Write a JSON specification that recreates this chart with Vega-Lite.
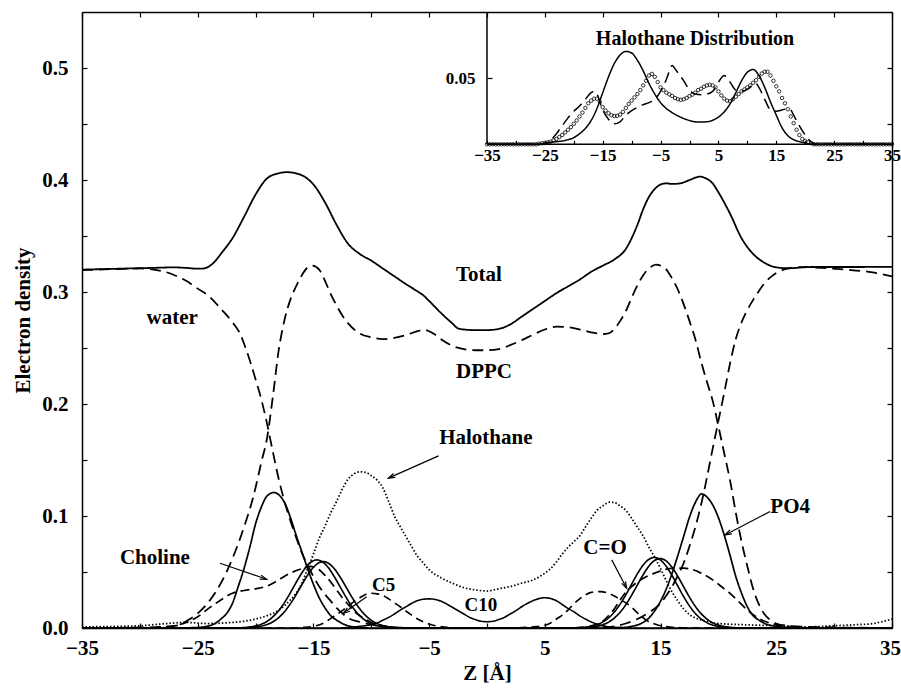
{
"$schema": "https://vega.github.io/schema/vega-lite/v6.json",
"width": 810, "height": 616,
"autosize": {"type": "none"},
"padding": {"left": 82, "top": 12, "right": 9, "bottom": 60},
"background": "white",
"config": {
 "view": {"stroke": null},
 "font": "Liberation Serif",
 "axis": {"grid": false, "domainColor": "black", "domainWidth": 1.5, "tickColor": "black", "tickWidth": 1.2, "labelColor": "black", "labelFont": "Liberation Serif", "labelFontWeight": "bold", "labelFontSize": 21, "titleFont": "Liberation Serif", "titleFontWeight": "bold", "titleFontSize": 21, "titleColor": "black", "labelFlush": false, "labelOverlap": false, "labelBound": false}
},
"datasets": {
 "main": [
{"s":"Total","z":-35,"v":0.32},{"s":"Total","z":-33,"v":0.3205},{"s":"Total","z":-31,"v":0.321},{"s":"Total","z":-29,"v":0.3215},{"s":"Total","z":-27,"v":0.322},{"s":"Total","z":-26,"v":0.3215},{"s":"Total","z":-25,"v":0.3208},{"s":"Total","z":-24.5,"v":0.321},{"s":"Total","z":-24,"v":0.323},{"s":"Total","z":-23.5,"v":0.3275},{"s":"Total","z":-23,"v":0.334},{"s":"Total","z":-22,"v":0.348},{"s":"Total","z":-21,"v":0.367},{"s":"Total","z":-20,"v":0.387},{"s":"Total","z":-19,"v":0.4015},{"s":"Total","z":-18,"v":0.406},{"s":"Total","z":-17.3,"v":0.407},{"s":"Total","z":-16.5,"v":0.406},{"s":"Total","z":-15.5,"v":0.401},{"s":"Total","z":-15,"v":0.396},{"s":"Total","z":-14,"v":0.38},{"s":"Total","z":-13,"v":0.36},{"s":"Total","z":-12,"v":0.343},{"s":"Total","z":-11,"v":0.334},{"s":"Total","z":-10,"v":0.328},{"s":"Total","z":-9,"v":0.321},{"s":"Total","z":-8,"v":0.314},{"s":"Total","z":-7,"v":0.307},{"s":"Total","z":-6,"v":0.3005},{"s":"Total","z":-5.5,"v":0.297},{"s":"Total","z":-5,"v":0.292},{"s":"Total","z":-4,"v":0.2815},{"s":"Total","z":-3,"v":0.272},{"s":"Total","z":-2.5,"v":0.2675},{"s":"Total","z":-2,"v":0.2665},{"s":"Total","z":-1,"v":0.266},{"s":"Total","z":0,"v":0.266},{"s":"Total","z":1,"v":0.267},{"s":"Total","z":2,"v":0.271},{"s":"Total","z":3,"v":0.278},{"s":"Total","z":4,"v":0.285},{"s":"Total","z":5,"v":0.292},{"s":"Total","z":6,"v":0.299},{"s":"Total","z":7,"v":0.305},{"s":"Total","z":8,"v":0.311},{"s":"Total","z":9,"v":0.318},{"s":"Total","z":10,"v":0.3235},{"s":"Total","z":11,"v":0.329},{"s":"Total","z":12,"v":0.3385},{"s":"Total","z":12.5,"v":0.348},{"s":"Total","z":13,"v":0.36},{"s":"Total","z":13.5,"v":0.374},{"s":"Total","z":14,"v":0.385},{"s":"Total","z":14.5,"v":0.392},{"s":"Total","z":15,"v":0.396},{"s":"Total","z":15.5,"v":0.397},{"s":"Total","z":16,"v":0.3965},{"s":"Total","z":16.7,"v":0.397},{"s":"Total","z":17.5,"v":0.4},{"s":"Total","z":18.4,"v":0.403},{"s":"Total","z":19,"v":0.401},{"s":"Total","z":19.5,"v":0.397},{"s":"Total","z":20,"v":0.389},{"s":"Total","z":21,"v":0.37},{"s":"Total","z":22,"v":0.348},{"s":"Total","z":23,"v":0.334},{"s":"Total","z":24,"v":0.326},{"s":"Total","z":25,"v":0.322},{"s":"Total","z":26,"v":0.3212},{"s":"Total","z":28,"v":0.3223},{"s":"Total","z":31,"v":0.3223},{"s":"Total","z":35,"v":0.3225},
{"s":"DPPC","z":-35,"v":0},{"s":"DPPC","z":-30,"v":0.0005},{"s":"DPPC","z":-28,"v":0.001},{"s":"DPPC","z":-27,"v":0.002},{"s":"DPPC","z":-26.5,"v":0.003},{"s":"DPPC","z":-26,"v":0.006},{"s":"DPPC","z":-25,"v":0.013},{"s":"DPPC","z":-24,"v":0.024},{"s":"DPPC","z":-23,"v":0.04},{"s":"DPPC","z":-22,"v":0.062},{"s":"DPPC","z":-21,"v":0.09},{"s":"DPPC","z":-20.2,"v":0.117},{"s":"DPPC","z":-19.5,"v":0.148},{"s":"DPPC","z":-19,"v":0.17},{"s":"DPPC","z":-18.5,"v":0.207},{"s":"DPPC","z":-18,"v":0.248},{"s":"DPPC","z":-17.5,"v":0.275},{"s":"DPPC","z":-17,"v":0.293},{"s":"DPPC","z":-16.5,"v":0.305},{"s":"DPPC","z":-16,"v":0.315},{"s":"DPPC","z":-15.5,"v":0.322},{"s":"DPPC","z":-15.1,"v":0.3235},{"s":"DPPC","z":-14.5,"v":0.32},{"s":"DPPC","z":-14,"v":0.31},{"s":"DPPC","z":-13.5,"v":0.298},{"s":"DPPC","z":-13,"v":0.288},{"s":"DPPC","z":-12.5,"v":0.279},{"s":"DPPC","z":-12,"v":0.272},{"s":"DPPC","z":-11,"v":0.263},{"s":"DPPC","z":-10,"v":0.2595},{"s":"DPPC","z":-9,"v":0.258},{"s":"DPPC","z":-8,"v":0.259},{"s":"DPPC","z":-7,"v":0.2615},{"s":"DPPC","z":-6,"v":0.265},{"s":"DPPC","z":-5.5,"v":0.2662},{"s":"DPPC","z":-5,"v":0.265},{"s":"DPPC","z":-4.5,"v":0.262},{"s":"DPPC","z":-4,"v":0.258},{"s":"DPPC","z":-3,"v":0.252},{"s":"DPPC","z":-2,"v":0.249},{"s":"DPPC","z":-1,"v":0.248},{"s":"DPPC","z":0,"v":0.248},{"s":"DPPC","z":1,"v":0.249},{"s":"DPPC","z":2,"v":0.2525},{"s":"DPPC","z":3,"v":0.257},{"s":"DPPC","z":4,"v":0.262},{"s":"DPPC","z":5,"v":0.2665},{"s":"DPPC","z":6,"v":0.269},{"s":"DPPC","z":7,"v":0.2685},{"s":"DPPC","z":8,"v":0.2665},{"s":"DPPC","z":9,"v":0.264},{"s":"DPPC","z":10,"v":0.2625},{"s":"DPPC","z":10.5,"v":0.263},{"s":"DPPC","z":11,"v":0.267},{"s":"DPPC","z":11.5,"v":0.274},{"s":"DPPC","z":12,"v":0.283},{"s":"DPPC","z":12.5,"v":0.295},{"s":"DPPC","z":13,"v":0.306},{"s":"DPPC","z":13.5,"v":0.315},{"s":"DPPC","z":14,"v":0.321},{"s":"DPPC","z":14.6,"v":0.3244},{"s":"DPPC","z":15,"v":0.3235},{"s":"DPPC","z":15.5,"v":0.32},{"s":"DPPC","z":16,"v":0.312},{"s":"DPPC","z":16.5,"v":0.302},{"s":"DPPC","z":17,"v":0.289},{"s":"DPPC","z":17.5,"v":0.274},{"s":"DPPC","z":18,"v":0.258},{"s":"DPPC","z":18.5,"v":0.238},{"s":"DPPC","z":19,"v":0.22},{"s":"DPPC","z":19.5,"v":0.203},{"s":"DPPC","z":20,"v":0.18},{"s":"DPPC","z":20.5,"v":0.156},{"s":"DPPC","z":21,"v":0.132},{"s":"DPPC","z":21.5,"v":0.103},{"s":"DPPC","z":22,"v":0.077},{"s":"DPPC","z":22.5,"v":0.055},{"s":"DPPC","z":23,"v":0.035},{"s":"DPPC","z":23.5,"v":0.021},{"s":"DPPC","z":24,"v":0.012},{"s":"DPPC","z":24.5,"v":0.007},{"s":"DPPC","z":25,"v":0.004},{"s":"DPPC","z":26,"v":0.002},{"s":"DPPC","z":28,"v":0.001},{"s":"DPPC","z":35,"v":0},
{"s":"water","z":-35,"v":0.3195},{"s":"water","z":-32,"v":0.3205},{"s":"water","z":-30,"v":0.321},{"s":"water","z":-28,"v":0.3185},{"s":"water","z":-27,"v":0.315},{"s":"water","z":-26,"v":0.31},{"s":"water","z":-25,"v":0.303},{"s":"water","z":-24,"v":0.296},{"s":"water","z":-23,"v":0.285},{"s":"water","z":-22,"v":0.273},{"s":"water","z":-21.35,"v":0.263},{"s":"water","z":-21,"v":0.254},{"s":"water","z":-20.5,"v":0.239},{"s":"water","z":-20,"v":0.222},{"s":"water","z":-19.5,"v":0.204},{"s":"water","z":-19,"v":0.182},{"s":"water","z":-18.5,"v":0.157},{"s":"water","z":-18,"v":0.133},{"s":"water","z":-17.5,"v":0.113},{"s":"water","z":-17,"v":0.096},{"s":"water","z":-16.5,"v":0.081},{"s":"water","z":-16,"v":0.067},{"s":"water","z":-15.5,"v":0.056},{"s":"water","z":-15,"v":0.046},{"s":"water","z":-14.5,"v":0.037},{"s":"water","z":-14,"v":0.03},{"s":"water","z":-13.5,"v":0.024},{"s":"water","z":-13,"v":0.018},{"s":"water","z":-12.5,"v":0.013},{"s":"water","z":-12,"v":0.009},{"s":"water","z":-11,"v":0.0055},{"s":"water","z":-10,"v":0.003},{"s":"water","z":-9,"v":0.0015},{"s":"water","z":-8,"v":0.0007},{"s":"water","z":-6,"v":0},{"s":"water","z":10,"v":0},{"s":"water","z":11,"v":0.0015},{"s":"water","z":12,"v":0.004},{"s":"water","z":13,"v":0.008},{"s":"water","z":14,"v":0.014},{"s":"water","z":15,"v":0.022},{"s":"water","z":15.5,"v":0.029},{"s":"water","z":16,"v":0.037},{"s":"water","z":16.5,"v":0.047},{"s":"water","z":17,"v":0.058},{"s":"water","z":17.5,"v":0.073},{"s":"water","z":18,"v":0.09},{"s":"water","z":18.5,"v":0.11},{"s":"water","z":19,"v":0.134},{"s":"water","z":19.5,"v":0.16},{"s":"water","z":20,"v":0.185},{"s":"water","z":20.5,"v":0.21},{"s":"water","z":21,"v":0.236},{"s":"water","z":21.5,"v":0.258},{"s":"water","z":22,"v":0.273},{"s":"water","z":22.5,"v":0.284},{"s":"water","z":23,"v":0.293},{"s":"water","z":23.5,"v":0.301},{"s":"water","z":24,"v":0.308},{"s":"water","z":25,"v":0.317},{"s":"water","z":26,"v":0.321},{"s":"water","z":27,"v":0.3223},{"s":"water","z":29,"v":0.3215},{"s":"water","z":31,"v":0.32},{"s":"water","z":33,"v":0.318},{"s":"water","z":35,"v":0.314},
{"s":"Halothane","z":-35,"v":0.001},{"s":"Halothane","z":-30,"v":0.002},{"s":"Halothane","z":-27.7,"v":0.004},{"s":"Halothane","z":-26,"v":0.005},{"s":"Halothane","z":-24.2,"v":0.004},{"s":"Halothane","z":-22,"v":0.005},{"s":"Halothane","z":-21,"v":0.006},{"s":"Halothane","z":-20,"v":0.008},{"s":"Halothane","z":-19,"v":0.011},{"s":"Halothane","z":-18.5,"v":0.013},{"s":"Halothane","z":-18,"v":0.016},{"s":"Halothane","z":-17.5,"v":0.02},{"s":"Halothane","z":-17,"v":0.025},{"s":"Halothane","z":-16.5,"v":0.031},{"s":"Halothane","z":-16,"v":0.04},{"s":"Halothane","z":-15.5,"v":0.053},{"s":"Halothane","z":-15,"v":0.066},{"s":"Halothane","z":-14.5,"v":0.08},{"s":"Halothane","z":-14,"v":0.091},{"s":"Halothane","z":-13.5,"v":0.103},{"s":"Halothane","z":-13,"v":0.113},{"s":"Halothane","z":-12.5,"v":0.124},{"s":"Halothane","z":-12,"v":0.133},{"s":"Halothane","z":-11.5,"v":0.1375},{"s":"Halothane","z":-11,"v":0.1395},{"s":"Halothane","z":-10.5,"v":0.139},{"s":"Halothane","z":-10,"v":0.136},{"s":"Halothane","z":-9.5,"v":0.132},{"s":"Halothane","z":-9,"v":0.125},{"s":"Halothane","z":-8.5,"v":0.113},{"s":"Halothane","z":-8,"v":0.1},{"s":"Halothane","z":-7.5,"v":0.0905},{"s":"Halothane","z":-7,"v":0.0815},{"s":"Halothane","z":-6.5,"v":0.0725},{"s":"Halothane","z":-6,"v":0.064},{"s":"Halothane","z":-5.5,"v":0.058},{"s":"Halothane","z":-5,"v":0.052},{"s":"Halothane","z":-4.5,"v":0.048},{"s":"Halothane","z":-4,"v":0.045},{"s":"Halothane","z":-3,"v":0.04},{"s":"Halothane","z":-2,"v":0.036},{"s":"Halothane","z":-1,"v":0.034},{"s":"Halothane","z":0,"v":0.033},{"s":"Halothane","z":1,"v":0.035},{"s":"Halothane","z":2,"v":0.037},{"s":"Halothane","z":3,"v":0.04},{"s":"Halothane","z":4,"v":0.043},{"s":"Halothane","z":5,"v":0.049},{"s":"Halothane","z":5.5,"v":0.053},{"s":"Halothane","z":6,"v":0.059},{"s":"Halothane","z":6.5,"v":0.066},{"s":"Halothane","z":7,"v":0.072},{"s":"Halothane","z":7.5,"v":0.077},{"s":"Halothane","z":8,"v":0.082},{"s":"Halothane","z":8.5,"v":0.09},{"s":"Halothane","z":9,"v":0.098},{"s":"Halothane","z":9.5,"v":0.105},{"s":"Halothane","z":10,"v":0.109},{"s":"Halothane","z":10.6,"v":0.1123},{"s":"Halothane","z":11,"v":0.112},{"s":"Halothane","z":11.5,"v":0.109},{"s":"Halothane","z":12,"v":0.105},{"s":"Halothane","z":12.5,"v":0.098},{"s":"Halothane","z":13,"v":0.09},{"s":"Halothane","z":13.5,"v":0.082},{"s":"Halothane","z":14,"v":0.072},{"s":"Halothane","z":14.5,"v":0.063},{"s":"Halothane","z":15,"v":0.053},{"s":"Halothane","z":15.5,"v":0.042},{"s":"Halothane","z":16,"v":0.032},{"s":"Halothane","z":16.5,"v":0.024},{"s":"Halothane","z":17,"v":0.017},{"s":"Halothane","z":17.5,"v":0.012},{"s":"Halothane","z":18,"v":0.009},{"s":"Halothane","z":19,"v":0.006},{"s":"Halothane","z":20,"v":0.004},{"s":"Halothane","z":22,"v":0.003},{"s":"Halothane","z":25,"v":0.002},{"s":"Halothane","z":27.6,"v":0.001},{"s":"Halothane","z":30,"v":0.002},{"s":"Halothane","z":32,"v":0.003},{"s":"Halothane","z":33.4,"v":0.004},{"s":"Halothane","z":34.3,"v":0.006},{"s":"Halothane","z":35,"v":0.008},
{"s":"PO4","z":-35,"v":0},{"s":"PO4","z":-26,"v":0.0002},{"s":"PO4","z":-25,"v":0.0005},{"s":"PO4","z":-24,"v":0.002},{"s":"PO4","z":-23.5,"v":0.004},{"s":"PO4","z":-23,"v":0.008},{"s":"PO4","z":-22.5,"v":0.013},{"s":"PO4","z":-22,"v":0.022},{"s":"PO4","z":-21.5,"v":0.037},{"s":"PO4","z":-21,"v":0.053},{"s":"PO4","z":-20.5,"v":0.072},{"s":"PO4","z":-20,"v":0.093},{"s":"PO4","z":-19.5,"v":0.108},{"s":"PO4","z":-19,"v":0.118},{"s":"PO4","z":-18.4,"v":0.121},{"s":"PO4","z":-18,"v":0.119},{"s":"PO4","z":-17.5,"v":0.112},{"s":"PO4","z":-17,"v":0.099},{"s":"PO4","z":-16.5,"v":0.083},{"s":"PO4","z":-16,"v":0.068},{"s":"PO4","z":-15.5,"v":0.053},{"s":"PO4","z":-15,"v":0.039},{"s":"PO4","z":-14.5,"v":0.027},{"s":"PO4","z":-14,"v":0.018},{"s":"PO4","z":-13.5,"v":0.011},{"s":"PO4","z":-13,"v":0.007},{"s":"PO4","z":-12.5,"v":0.004},{"s":"PO4","z":-12,"v":0.002},{"s":"PO4","z":-11,"v":0.0005},{"s":"PO4","z":-10,"v":0},{"s":"PO4","z":10,"v":0},{"s":"PO4","z":11.5,"v":0.0003},{"s":"PO4","z":12.5,"v":0.0015},{"s":"PO4","z":13.5,"v":0.005},{"s":"PO4","z":14,"v":0.009},{"s":"PO4","z":14.5,"v":0.0155},{"s":"PO4","z":15,"v":0.024},{"s":"PO4","z":15.5,"v":0.035},{"s":"PO4","z":16,"v":0.049},{"s":"PO4","z":16.5,"v":0.065},{"s":"PO4","z":17,"v":0.082},{"s":"PO4","z":17.5,"v":0.099},{"s":"PO4","z":18,"v":0.112},{"s":"PO4","z":18.55,"v":0.1197},{"s":"PO4","z":19,"v":0.117},{"s":"PO4","z":19.5,"v":0.11},{"s":"PO4","z":20,"v":0.0985},{"s":"PO4","z":20.5,"v":0.083},{"s":"PO4","z":21,"v":0.065},{"s":"PO4","z":21.5,"v":0.046},{"s":"PO4","z":22,"v":0.031},{"s":"PO4","z":22.5,"v":0.019},{"s":"PO4","z":23,"v":0.011},{"s":"PO4","z":23.5,"v":0.007},{"s":"PO4","z":24,"v":0.004},{"s":"PO4","z":25,"v":0.0015},{"s":"PO4","z":26,"v":0.0005},{"s":"PO4","z":27,"v":0},{"s":"PO4","z":35,"v":0},
{"s":"Choline","z":-35,"v":0},{"s":"Choline","z":-29,"v":0},{"s":"Choline","z":-28,"v":0.001},{"s":"Choline","z":-27,"v":0.002},{"s":"Choline","z":-26,"v":0.005},{"s":"Choline","z":-25,"v":0.01},{"s":"Choline","z":-24,"v":0.018},{"s":"Choline","z":-23,"v":0.025},{"s":"Choline","z":-22,"v":0.031},{"s":"Choline","z":-21,"v":0.0335},{"s":"Choline","z":-20,"v":0.035},{"s":"Choline","z":-19,"v":0.0375},{"s":"Choline","z":-18.5,"v":0.04},{"s":"Choline","z":-18,"v":0.043},{"s":"Choline","z":-17,"v":0.049},{"s":"Choline","z":-16,"v":0.053},{"s":"Choline","z":-15.3,"v":0.055},{"s":"Choline","z":-14.5,"v":0.052},{"s":"Choline","z":-14,"v":0.047},{"s":"Choline","z":-13.5,"v":0.041},{"s":"Choline","z":-13,"v":0.034},{"s":"Choline","z":-12.5,"v":0.027},{"s":"Choline","z":-12,"v":0.021},{"s":"Choline","z":-11.5,"v":0.015},{"s":"Choline","z":-11,"v":0.011},{"s":"Choline","z":-10,"v":0.005},{"s":"Choline","z":-9,"v":0.002},{"s":"Choline","z":-8,"v":0.0005},{"s":"Choline","z":-6,"v":0},{"s":"Choline","z":7,"v":0},{"s":"Choline","z":8,"v":0.0005},{"s":"Choline","z":9,"v":0.002},{"s":"Choline","z":10,"v":0.006},{"s":"Choline","z":10.5,"v":0.011},{"s":"Choline","z":11,"v":0.017},{"s":"Choline","z":11.5,"v":0.025},{"s":"Choline","z":12,"v":0.032},{"s":"Choline","z":12.5,"v":0.037},{"s":"Choline","z":13,"v":0.041},{"s":"Choline","z":13.8,"v":0.046},{"s":"Choline","z":14.5,"v":0.049},{"s":"Choline","z":15,"v":0.051},{"s":"Choline","z":16,"v":0.0533},{"s":"Choline","z":17,"v":0.0535},{"s":"Choline","z":17.8,"v":0.052},{"s":"Choline","z":18.5,"v":0.049},{"s":"Choline","z":19.5,"v":0.043},{"s":"Choline","z":20.5,"v":0.035},{"s":"Choline","z":21,"v":0.031},{"s":"Choline","z":21.5,"v":0.026},{"s":"Choline","z":22,"v":0.021},{"s":"Choline","z":22.5,"v":0.016},{"s":"Choline","z":23,"v":0.012},{"s":"Choline","z":23.5,"v":0.0085},{"s":"Choline","z":24,"v":0.006},{"s":"Choline","z":25,"v":0.003},{"s":"Choline","z":26,"v":0.0015},{"s":"Choline","z":27,"v":0.0005},{"s":"Choline","z":28,"v":0},{"s":"Choline","z":35,"v":0},
{"s":"COa","z":-35,"v":0},{"s":"COa","z":-22.7,"v":0},{"s":"COa","z":-21.7,"v":0.0001},{"s":"COa","z":-20.7,"v":0.0007},{"s":"COa","z":-19.7,"v":0.0027},{"s":"COa","z":-19.2,"v":0.0048},{"s":"COa","z":-18.7,"v":0.0082},{"s":"COa","z":-18.2,"v":0.0132},{"s":"COa","z":-17.7,"v":0.0197},{"s":"COa","z":-17.2,"v":0.0278},{"s":"COa","z":-16.7,"v":0.0369},{"s":"COa","z":-16.2,"v":0.0459},{"s":"COa","z":-15.7,"v":0.0537},{"s":"COa","z":-15.2,"v":0.0589},{"s":"COa","z":-14.7,"v":0.0608},{"s":"COa","z":-14.2,"v":0.0589},{"s":"COa","z":-13.7,"v":0.0537},{"s":"COa","z":-13.2,"v":0.0459},{"s":"COa","z":-12.7,"v":0.0369},{"s":"COa","z":-12.2,"v":0.0278},{"s":"COa","z":-11.7,"v":0.0197},{"s":"COa","z":-11.2,"v":0.0132},{"s":"COa","z":-10.7,"v":0.0082},{"s":"COa","z":-10.2,"v":0.0048},{"s":"COa","z":-9.7,"v":0.0027},{"s":"COa","z":-8.7,"v":0.0007},{"s":"COa","z":-7.7,"v":0.0001},{"s":"COa","z":-6.7,"v":0},{"s":"COa","z":6.95,"v":0},{"s":"COa","z":7.95,"v":0.0001},{"s":"COa","z":8.95,"v":0.0007},{"s":"COa","z":9.95,"v":0.0027},{"s":"COa","z":10.45,"v":0.0049},{"s":"COa","z":10.95,"v":0.0084},{"s":"COa","z":11.45,"v":0.0134},{"s":"COa","z":11.95,"v":0.0201},{"s":"COa","z":12.45,"v":0.0284},{"s":"COa","z":12.95,"v":0.0376},{"s":"COa","z":13.45,"v":0.0468},{"s":"COa","z":13.95,"v":0.0547},{"s":"COa","z":14.45,"v":0.0601},{"s":"COa","z":14.95,"v":0.062},{"s":"COa","z":15.45,"v":0.0601},{"s":"COa","z":15.95,"v":0.0547},{"s":"COa","z":16.45,"v":0.0468},{"s":"COa","z":16.95,"v":0.0376},{"s":"COa","z":17.45,"v":0.0284},{"s":"COa","z":17.95,"v":0.0201},{"s":"COa","z":18.45,"v":0.0134},{"s":"COa","z":18.95,"v":0.0084},{"s":"COa","z":19.45,"v":0.0049},{"s":"COa","z":19.95,"v":0.0027},{"s":"COa","z":20.95,"v":0.0007},{"s":"COa","z":21.95,"v":0.0001},{"s":"COa","z":22.95,"v":0},{"s":"COa","z":35,"v":0},
{"s":"COb","z":-35,"v":0},{"s":"COb","z":-22.15,"v":0},{"s":"COb","z":-21.15,"v":0.0001},{"s":"COb","z":-20.15,"v":0.0007},{"s":"COb","z":-19.15,"v":0.0026},{"s":"COb","z":-18.65,"v":0.0047},{"s":"COb","z":-18.15,"v":0.008},{"s":"COb","z":-17.65,"v":0.0128},{"s":"COb","z":-17.15,"v":0.0193},{"s":"COb","z":-16.65,"v":0.0271},{"s":"COb","z":-16.15,"v":0.036},{"s":"COb","z":-15.65,"v":0.0448},{"s":"COb","z":-15.15,"v":0.0523},{"s":"COb","z":-14.65,"v":0.0575},{"s":"COb","z":-14.15,"v":0.0593},{"s":"COb","z":-13.65,"v":0.0575},{"s":"COb","z":-13.15,"v":0.0523},{"s":"COb","z":-12.65,"v":0.0448},{"s":"COb","z":-12.15,"v":0.036},{"s":"COb","z":-11.65,"v":0.0271},{"s":"COb","z":-11.15,"v":0.0193},{"s":"COb","z":-10.65,"v":0.0128},{"s":"COb","z":-10.15,"v":0.008},{"s":"COb","z":-9.65,"v":0.0047},{"s":"COb","z":-9.15,"v":0.0026},{"s":"COb","z":-8.15,"v":0.0007},{"s":"COb","z":-7.15,"v":0.0001},{"s":"COb","z":-6.15,"v":0},{"s":"COb","z":6.45,"v":0},{"s":"COb","z":7.45,"v":0.0001},{"s":"COb","z":8.45,"v":0.0007},{"s":"COb","z":9.45,"v":0.0028},{"s":"COb","z":9.95,"v":0.005},{"s":"COb","z":10.45,"v":0.0085},{"s":"COb","z":10.95,"v":0.0136},{"s":"COb","z":11.45,"v":0.0205},{"s":"COb","z":11.95,"v":0.0288},{"s":"COb","z":12.45,"v":0.0382},{"s":"COb","z":12.95,"v":0.0476},{"s":"COb","z":13.45,"v":0.0556},{"s":"COb","z":13.95,"v":0.061},{"s":"COb","z":14.45,"v":0.063},{"s":"COb","z":14.95,"v":0.061},{"s":"COb","z":15.45,"v":0.0556},{"s":"COb","z":15.95,"v":0.0476},{"s":"COb","z":16.45,"v":0.0382},{"s":"COb","z":16.95,"v":0.0288},{"s":"COb","z":17.45,"v":0.0205},{"s":"COb","z":17.95,"v":0.0136},{"s":"COb","z":18.45,"v":0.0085},{"s":"COb","z":18.95,"v":0.005},{"s":"COb","z":19.45,"v":0.0028},{"s":"COb","z":20.45,"v":0.0007},{"s":"COb","z":21.45,"v":0.0001},{"s":"COb","z":22.45,"v":0},{"s":"COb","z":35,"v":0},
{"s":"C5","z":-35,"v":0},{"s":"C5","z":-17,"v":0},{"s":"C5","z":-16,"v":0.0005},{"s":"C5","z":-15,"v":0.0015},{"s":"C5","z":-14,"v":0.005},{"s":"C5","z":-13.3,"v":0.01},{"s":"C5","z":-12.5,"v":0.0155},{"s":"C5","z":-12,"v":0.0195},{"s":"C5","z":-11.5,"v":0.0235},{"s":"C5","z":-11,"v":0.027},{"s":"C5","z":-10.5,"v":0.03},{"s":"C5","z":-10.1,"v":0.031},{"s":"C5","z":-9.5,"v":0.0305},{"s":"C5","z":-9,"v":0.029},{"s":"C5","z":-8.5,"v":0.026},{"s":"C5","z":-8,"v":0.0225},{"s":"C5","z":-7.5,"v":0.019},{"s":"C5","z":-7,"v":0.015},{"s":"C5","z":-6.5,"v":0.0115},{"s":"C5","z":-6,"v":0.008},{"s":"C5","z":-5.5,"v":0.0055},{"s":"C5","z":-5,"v":0.0035},{"s":"C5","z":-4,"v":0.0012},{"s":"C5","z":-3,"v":0.0003},{"s":"C5","z":-2,"v":0},{"s":"C5","z":2,"v":0},{"s":"C5","z":3,"v":0.0003},{"s":"C5","z":4,"v":0.001},{"s":"C5","z":5,"v":0.0025},{"s":"C5","z":5.5,"v":0.0045},{"s":"C5","z":6,"v":0.008},{"s":"C5","z":6.5,"v":0.0115},{"s":"C5","z":7,"v":0.016},{"s":"C5","z":7.5,"v":0.0215},{"s":"C5","z":8,"v":0.026},{"s":"C5","z":8.5,"v":0.0295},{"s":"C5","z":9,"v":0.0318},{"s":"C5","z":9.77,"v":0.0325},{"s":"C5","z":10.5,"v":0.031},{"s":"C5","z":11,"v":0.0285},{"s":"C5","z":11.5,"v":0.0255},{"s":"C5","z":12,"v":0.0225},{"s":"C5","z":12.5,"v":0.0185},{"s":"C5","z":13,"v":0.0135},{"s":"C5","z":13.5,"v":0.009},{"s":"C5","z":14,"v":0.0055},{"s":"C5","z":14.5,"v":0.0035},{"s":"C5","z":15,"v":0.002},{"s":"C5","z":16,"v":0.0007},{"s":"C5","z":17,"v":0.0002},{"s":"C5","z":18,"v":0},{"s":"C5","z":35,"v":0},
{"s":"C10","z":-35,"v":0},{"s":"C10","z":-13,"v":0},{"s":"C10","z":-12,"v":0.0005},{"s":"C10","z":-11,"v":0.0015},{"s":"C10","z":-10,"v":0.003},{"s":"C10","z":-9.5,"v":0.0045},{"s":"C10","z":-9,"v":0.007},{"s":"C10","z":-8.5,"v":0.0095},{"s":"C10","z":-8,"v":0.0125},{"s":"C10","z":-7.5,"v":0.016},{"s":"C10","z":-7,"v":0.019},{"s":"C10","z":-6.5,"v":0.022},{"s":"C10","z":-6,"v":0.0245},{"s":"C10","z":-5.5,"v":0.0257},{"s":"C10","z":-5,"v":0.026},{"s":"C10","z":-4.5,"v":0.0255},{"s":"C10","z":-4,"v":0.024},{"s":"C10","z":-3.5,"v":0.0215},{"s":"C10","z":-3,"v":0.0185},{"s":"C10","z":-2.5,"v":0.0155},{"s":"C10","z":-2,"v":0.0125},{"s":"C10","z":-1.5,"v":0.0095},{"s":"C10","z":-1,"v":0.0075},{"s":"C10","z":-0.5,"v":0.006},{"s":"C10","z":0,"v":0.0056},{"s":"C10","z":0.5,"v":0.006},{"s":"C10","z":1,"v":0.0075},{"s":"C10","z":1.5,"v":0.0095},{"s":"C10","z":2,"v":0.0125},{"s":"C10","z":2.5,"v":0.0155},{"s":"C10","z":3,"v":0.019},{"s":"C10","z":3.5,"v":0.022},{"s":"C10","z":4,"v":0.0245},{"s":"C10","z":4.5,"v":0.0263},{"s":"C10","z":5,"v":0.027},{"s":"C10","z":5.5,"v":0.0263},{"s":"C10","z":6,"v":0.0243},{"s":"C10","z":6.5,"v":0.021},{"s":"C10","z":7,"v":0.0175},{"s":"C10","z":7.5,"v":0.0145},{"s":"C10","z":8,"v":0.011},{"s":"C10","z":8.5,"v":0.008},{"s":"C10","z":9,"v":0.0055},{"s":"C10","z":9.5,"v":0.0035},{"s":"C10","z":10,"v":0.002},{"s":"C10","z":11,"v":0.0007},{"s":"C10","z":12,"v":0.0002},{"s":"C10","z":13,"v":0},{"s":"C10","z":35,"v":0}
 ],
 "inset": [
{"s":"a","z":-35,"v":0},{"s":"a","z":-26,"v":0},{"s":"a","z":-25,"v":0.001},{"s":"a","z":-24,"v":0.0015},{"s":"a","z":-23,"v":0.002},{"s":"a","z":-22,"v":0.0025},{"s":"a","z":-21,"v":0.0035},{"s":"a","z":-20,"v":0.005},{"s":"a","z":-19,"v":0.008},{"s":"a","z":-18,"v":0.012},{"s":"a","z":-17,"v":0.018},{"s":"a","z":-16,"v":0.027},{"s":"a","z":-15,"v":0.039},{"s":"a","z":-14,"v":0.051},{"s":"a","z":-13,"v":0.061},{"s":"a","z":-12,"v":0.0675},{"s":"a","z":-11,"v":0.0702},{"s":"a","z":-10,"v":0.069},{"s":"a","z":-9,"v":0.0635},{"s":"a","z":-8,"v":0.0555},{"s":"a","z":-7,"v":0.046},{"s":"a","z":-6,"v":0.038},{"s":"a","z":-5,"v":0.0315},{"s":"a","z":-4,"v":0.027},{"s":"a","z":-3,"v":0.024},{"s":"a","z":-2,"v":0.0215},{"s":"a","z":-1,"v":0.0195},{"s":"a","z":0,"v":0.018},{"s":"a","z":1,"v":0.017},{"s":"a","z":2,"v":0.0168},{"s":"a","z":3,"v":0.017},{"s":"a","z":4,"v":0.0182},{"s":"a","z":5,"v":0.0205},{"s":"a","z":6,"v":0.0245},{"s":"a","z":7,"v":0.0305},{"s":"a","z":8,"v":0.039},{"s":"a","z":9,"v":0.048},{"s":"a","z":10,"v":0.0545},{"s":"a","z":11,"v":0.0565},{"s":"a","z":12,"v":0.052},{"s":"a","z":13,"v":0.043},{"s":"a","z":14,"v":0.032},{"s":"a","z":15,"v":0.022},{"s":"a","z":16,"v":0.0125},{"s":"a","z":17,"v":0.0065},{"s":"a","z":18,"v":0.0035},{"s":"a","z":19,"v":0.002},{"s":"a","z":20,"v":0.001},{"s":"a","z":21,"v":0.0003},{"s":"a","z":22,"v":0},{"s":"a","z":35,"v":0},
{"s":"b","z":-35,"v":0},{"s":"b","z":-25,"v":0},{"s":"b","z":-24,"v":0.003},{"s":"b","z":-23,"v":0.008},{"s":"b","z":-22,"v":0.014},{"s":"b","z":-21,"v":0.02},{"s":"b","z":-20,"v":0.025},{"s":"b","z":-19,"v":0.029},{"s":"b","z":-18,"v":0.034},{"s":"b","z":-17,"v":0.039},{"s":"b","z":-16.5,"v":0.04},{"s":"b","z":-16,"v":0.038},{"s":"b","z":-15,"v":0.026},{"s":"b","z":-14,"v":0.019},{"s":"b","z":-13,"v":0.0155},{"s":"b","z":-12,"v":0.017},{"s":"b","z":-11,"v":0.022},{"s":"b","z":-10,"v":0.0255},{"s":"b","z":-9,"v":0.028},{"s":"b","z":-8,"v":0.03},{"s":"b","z":-7,"v":0.0315},{"s":"b","z":-6,"v":0.034},{"s":"b","z":-5,"v":0.04},{"s":"b","z":-4,"v":0.049},{"s":"b","z":-3,"v":0.0595},{"s":"b","z":-2.5,"v":0.057},{"s":"b","z":-2,"v":0.054},{"s":"b","z":-1,"v":0.048},{"s":"b","z":0,"v":0.041},{"s":"b","z":1,"v":0.038},{"s":"b","z":2,"v":0.0375},{"s":"b","z":3,"v":0.038},{"s":"b","z":4,"v":0.04},{"s":"b","z":5,"v":0.047},{"s":"b","z":6,"v":0.052},{"s":"b","z":7,"v":0.047},{"s":"b","z":8,"v":0.041},{"s":"b","z":9,"v":0.04},{"s":"b","z":10,"v":0.0415},{"s":"b","z":11,"v":0.045},{"s":"b","z":11.5,"v":0.046},{"s":"b","z":12,"v":0.043},{"s":"b","z":13,"v":0.034},{"s":"b","z":14,"v":0.026},{"s":"b","z":15,"v":0.025},{"s":"b","z":16,"v":0.026},{"s":"b","z":17,"v":0.027},{"s":"b","z":17.5,"v":0.026},{"s":"b","z":18,"v":0.022},{"s":"b","z":19,"v":0.014},{"s":"b","z":20,"v":0.007},{"s":"b","z":21,"v":0.002},{"s":"b","z":22,"v":0},{"s":"b","z":35,"v":0},
{"s":"c","z":-35,"v":0},{"s":"c","z":-34.5,"v":0},{"s":"c","z":-34,"v":0},{"s":"c","z":-33.5,"v":0},{"s":"c","z":-33,"v":0},{"s":"c","z":-32.5,"v":0},{"s":"c","z":-32,"v":0},{"s":"c","z":-31.5,"v":0},{"s":"c","z":-31,"v":0},{"s":"c","z":-30.5,"v":0},{"s":"c","z":-30,"v":0},{"s":"c","z":-29.5,"v":0},{"s":"c","z":-29,"v":0},{"s":"c","z":-28.5,"v":0},{"s":"c","z":-28,"v":0},{"s":"c","z":-27.5,"v":0},{"s":"c","z":-27,"v":0},{"s":"c","z":-26.5,"v":0},{"s":"c","z":-26,"v":0.0005},{"s":"c","z":-25.5,"v":0.0008},{"s":"c","z":-25,"v":0.001},{"s":"c","z":-24.5,"v":0.0015},{"s":"c","z":-24,"v":0.002},{"s":"c","z":-23.5,"v":0.003},{"s":"c","z":-23,"v":0.004},{"s":"c","z":-22.5,"v":0.0055},{"s":"c","z":-22,"v":0.007},{"s":"c","z":-21.5,"v":0.009},{"s":"c","z":-21,"v":0.011},{"s":"c","z":-20.5,"v":0.013},{"s":"c","z":-20,"v":0.0155},{"s":"c","z":-19.5,"v":0.018},{"s":"c","z":-19,"v":0.021},{"s":"c","z":-18.5,"v":0.024},{"s":"c","z":-18,"v":0.0275},{"s":"c","z":-17.5,"v":0.031},{"s":"c","z":-17,"v":0.033},{"s":"c","z":-16.5,"v":0.0345},{"s":"c","z":-16,"v":0.0345},{"s":"c","z":-15.5,"v":0.032},{"s":"c","z":-15,"v":0.028},{"s":"c","z":-14.5,"v":0.0255},{"s":"c","z":-14,"v":0.0235},{"s":"c","z":-13.5,"v":0.022},{"s":"c","z":-13,"v":0.0214},{"s":"c","z":-12.5,"v":0.0215},{"s":"c","z":-12,"v":0.0225},{"s":"c","z":-11.5,"v":0.0245},{"s":"c","z":-11,"v":0.0275},{"s":"c","z":-10.5,"v":0.0305},{"s":"c","z":-10,"v":0.033},{"s":"c","z":-9.5,"v":0.0355},{"s":"c","z":-9,"v":0.038},{"s":"c","z":-8.5,"v":0.041},{"s":"c","z":-8,"v":0.0445},{"s":"c","z":-7.5,"v":0.048},{"s":"c","z":-7,"v":0.052},{"s":"c","z":-6.5,"v":0.0532},{"s":"c","z":-6,"v":0.051},{"s":"c","z":-5.5,"v":0.047},{"s":"c","z":-5,"v":0.043},{"s":"c","z":-4.5,"v":0.041},{"s":"c","z":-4,"v":0.039},{"s":"c","z":-3.5,"v":0.0378},{"s":"c","z":-3,"v":0.0365},{"s":"c","z":-2.5,"v":0.035},{"s":"c","z":-2,"v":0.034},{"s":"c","z":-1.5,"v":0.0336},{"s":"c","z":-1,"v":0.034},{"s":"c","z":-0.5,"v":0.035},{"s":"c","z":0,"v":0.0365},{"s":"c","z":0.5,"v":0.0375},{"s":"c","z":1,"v":0.039},{"s":"c","z":1.5,"v":0.041},{"s":"c","z":2,"v":0.042},{"s":"c","z":2.5,"v":0.0435},{"s":"c","z":3,"v":0.0445},{"s":"c","z":3.5,"v":0.045},{"s":"c","z":4,"v":0.0445},{"s":"c","z":4.5,"v":0.043},{"s":"c","z":5,"v":0.04},{"s":"c","z":5.5,"v":0.037},{"s":"c","z":6,"v":0.0345},{"s":"c","z":6.5,"v":0.033},{"s":"c","z":7,"v":0.0325},{"s":"c","z":7.5,"v":0.034},{"s":"c","z":8,"v":0.036},{"s":"c","z":8.5,"v":0.038},{"s":"c","z":9,"v":0.04},{"s":"c","z":9.5,"v":0.0415},{"s":"c","z":10,"v":0.043},{"s":"c","z":10.5,"v":0.0445},{"s":"c","z":11,"v":0.0465},{"s":"c","z":11.5,"v":0.0485},{"s":"c","z":12,"v":0.051},{"s":"c","z":12.5,"v":0.0535},{"s":"c","z":13,"v":0.0548},{"s":"c","z":13.5,"v":0.0548},{"s":"c","z":14,"v":0.052},{"s":"c","z":14.5,"v":0.048},{"s":"c","z":15,"v":0.0438},{"s":"c","z":15.5,"v":0.04},{"s":"c","z":16,"v":0.035},{"s":"c","z":16.5,"v":0.031},{"s":"c","z":17,"v":0.0265},{"s":"c","z":17.5,"v":0.021},{"s":"c","z":18,"v":0.016},{"s":"c","z":18.5,"v":0.011},{"s":"c","z":19,"v":0.007},{"s":"c","z":19.5,"v":0.004},{"s":"c","z":20,"v":0.0025},{"s":"c","z":20.5,"v":0.0015},{"s":"c","z":21,"v":0.0008},{"s":"c","z":21.5,"v":0},{"s":"c","z":22,"v":0},{"s":"c","z":22.5,"v":0},{"s":"c","z":23,"v":0},{"s":"c","z":23.5,"v":0},{"s":"c","z":24,"v":0},{"s":"c","z":24.5,"v":0},{"s":"c","z":25,"v":0},{"s":"c","z":25.5,"v":0},{"s":"c","z":26,"v":0},{"s":"c","z":26.5,"v":0},{"s":"c","z":27,"v":0},{"s":"c","z":27.5,"v":0},{"s":"c","z":28,"v":0},{"s":"c","z":28.5,"v":0},{"s":"c","z":29,"v":0},{"s":"c","z":29.5,"v":0},{"s":"c","z":30,"v":0},{"s":"c","z":30.5,"v":0},{"s":"c","z":31,"v":0},{"s":"c","z":31.5,"v":0},{"s":"c","z":32,"v":0},{"s":"c","z":32.5,"v":0},{"s":"c","z":33,"v":0},{"s":"c","z":33.5,"v":0},{"s":"c","z":34,"v":0},{"s":"c","z":34.5,"v":0},{"s":"c","z":35,"v":0}
 ],
 "labels": [
{"t":"Total","z":-0.7,"v":0.3155},{"t":"DPPC","z":-0.26,"v":0.229},{"t":"water","z":-27.2,"v":0.277},{"t":"Halothane","z":-0.1,"v":0.17},{"t":"Choline","z":-28.7,"v":0.0626},{"t":"C=O","z":10.2,"v":0.0715},{"t":"PO4","z":26.2,"v":0.108}
 ],
 "smallLabels": [
{"t":"C5","z":-8.94,"v":0.0384},{"t":"C10","z":-0.52,"v":0.0206}
 ],
 "arrows": [
{"z0":-4.19,"v0":0.1537,"z1":-8.52,"v1":0.1338,"dir":246},
{"z0":-23.07,"v0":0.0578,"z1":-19.04,"v1":0.0435,"dir":109},
{"z0":-10.4,"v0":0.028,"z1":-12.42,"v1":0.0131,"dir":235},
{"z0":10.78,"v0":0.0608,"z1":12.07,"v1":0.0355,"dir":152},
{"z0":24.46,"v0":0.104,"z1":20.57,"v1":0.0831,"dir":243}
 ],
 "insetFrame": [
{"z0":-35,"v0":0,"z1":35,"v1":0},{"z0":-35,"v0":0,"z1":-35,"v1":0.1}
 ],
 "insetTitle": [
{"t":"Halothane Distribution","z":0.95,"v":0.0798}
 ]
},
"layer": [
 {
  "layer": [
   {
    "data": {"name": "main"},
    "mark": {"type": "line", "interpolate": "monotone", "color": "black"},
    "encoding": {
     "x": {"field": "z", "type": "quantitative", "scale": {"domain": [-35, 35], "nice": false, "zero": false},
       "axis": {"orient": "bottom", "title": "Z [Å]", "titlePadding": 4, "values": [-35,-30,-25,-20,-15,-10,-5,0,5,10,15,20,25,30,35], "labelExpr": "(datum.value + 35) % 10 == 0 ? datum.label : ''", "labelOffset": {"condition": {"test": "datum.value == 35", "value": -2}, "value": 0}, "tickSize": -5, "labelPadding": 14}},
     "y": {"field": "v", "type": "quantitative", "scale": {"domain": [0, 0.55], "nice": false},
       "axis": {"orient": "left", "title": "Electron density", "titlePadding": 8, "values": [0,0.05,0.1,0.15,0.2,0.25,0.3,0.35,0.4,0.45,0.5], "labelExpr": "abs(datum.value*10 - round(datum.value*10)) < 0.01 ? format(datum.value, '.1f') : ''", "tickSize": -5, "labelPadding": 19}},
     "detail": {"field": "s", "type": "nominal"},
     "strokeDash": {"field": "s", "type": "nominal", "legend": null, "scale": {"domain": ["Total","DPPC","water","Halothane","PO4","Choline","COa","COb","C5","C10"], "range": [[1,0],[11,6],[11,6],[1.5,2],[1,0],[9,5],[1,0],[1,0],[8,5],[1,0]]}},
     "strokeWidth": {"field": "s", "type": "nominal", "legend": null, "scale": {"domain": ["Total","DPPC","water","Halothane","PO4","Choline","COa","COb","C5","C10"], "range": [1.8,1.6,1.6,1.4,0.9,1.4,1.8,1.8,1.4,1.5]}}
    }
   },
   {
    "data": {"name": "labels"},
    "mark": {"type": "text", "font": "Liberation Serif", "fontWeight": "bold", "fontSize": 21, "baseline": "middle", "align": "center", "color": "black"},
    "encoding": {"x": {"field": "z", "type": "quantitative"}, "y": {"field": "v", "type": "quantitative"}, "text": {"field": "t"}}
   },
   {
    "data": {"name": "smallLabels"},
    "mark": {"type": "text", "font": "Liberation Serif", "fontWeight": "bold", "fontSize": 19, "baseline": "middle", "align": "center", "color": "black"},
    "encoding": {"x": {"field": "z", "type": "quantitative"}, "y": {"field": "v", "type": "quantitative"}, "text": {"field": "t"}}
   },
   {
    "data": {"name": "arrows"},
    "mark": {"type": "rule", "color": "black", "strokeWidth": 1.2},
    "encoding": {"x": {"field": "z0", "type": "quantitative"}, "y": {"field": "v0", "type": "quantitative"}, "x2": {"field": "z1"}, "y2": {"field": "v1"}}
   },
   {
    "data": {"name": "arrows"},
    "mark": {"type": "point", "shape": "M-0.55,1.7L0,0L0.55,1.7", "filled": false, "stroke": "black", "strokeWidth": 1.2, "size": 60, "opacity": 1},
    "encoding": {"x": {"field": "z1", "type": "quantitative"}, "y": {"field": "v1", "type": "quantitative"}, "angle": {"field": "dir", "type": "quantitative", "scale": null}}
   }
  ]
 },
 {
  "layer": [
   {
    "data": {"name": "inset"},
    "transform": [{"filter": "datum.s != 'c'"}],
    "mark": {"type": "line", "interpolate": "monotone", "color": "black"},
    "encoding": {
     "x": {"field": "z", "type": "quantitative", "scale": {"domain": [-105, 35], "nice": false, "zero": false},
       "axis": {"orient": "bottom", "offset": -483.7, "title": null, "domain": false, "values": [-35,-30,-25,-20,-15,-10,-5,0,5,10,15,20,25,30,35], "labelExpr": "(datum.value + 35) % 10 == 0 ? datum.label : ''", "tickSize": -4, "labelPadding": 7, "labelFontSize": 17}},
     "y": {"field": "v", "type": "quantitative", "scale": {"domain": [-0.3656, 0.1], "nice": false, "zero": false},
       "axis": {"orient": "left", "offset": -405, "title": null, "domain": false, "values": [0.05], "format": ".2f", "tickSize": -5, "labelPadding": 17, "labelFontSize": 17}},
     "detail": {"field": "s", "type": "nominal"},
     "strokeDash": {"field": "s", "type": "nominal", "legend": null, "scale": {"domain": ["a","b"], "range": [[1,0],[7,5]]}},
     "strokeWidth": {"value": 1.5}
    }
   },
   {
    "data": {"name": "inset"},
    "transform": [{"filter": "datum.s == 'c'"}],
    "mark": {"type": "point", "shape": "circle", "filled": false, "stroke": "black", "strokeWidth": 0.8, "size": 12, "opacity": 1},
    "encoding": {"x": {"field": "z", "type": "quantitative"}, "y": {"field": "v", "type": "quantitative"}}
   },
   {
    "data": {"name": "insetFrame"},
    "mark": {"type": "rule", "color": "black", "strokeWidth": 1.5},
    "encoding": {"x": {"field": "z0", "type": "quantitative"}, "y": {"field": "v0", "type": "quantitative"}, "x2": {"field": "z1"}, "y2": {"field": "v1"}}
   },
   {
    "data": {"name": "insetTitle"},
    "mark": {"type": "text", "font": "Liberation Serif", "fontWeight": "bold", "fontSize": 20, "baseline": "middle", "align": "center", "color": "black"},
    "encoding": {"x": {"field": "z", "type": "quantitative"}, "y": {"field": "v", "type": "quantitative"}, "text": {"field": "t"}}
   }
  ]
 },
 {
  "data": {"name": "insetFrame"},
  "mark": {"type": "point", "opacity": 0},
  "encoding": {
   "x": {"field": "z0", "type": "quantitative", "scale": {"domain": [-35, 35], "nice": false, "zero": false},
     "axis": {"orient": "top", "title": null, "labels": false, "values": [-35,-30,-25,-20,-15,-10,-5,0,5,10,15,20,25,30,35], "tickSize": -5}},
   "y": {"field": "v0", "type": "quantitative", "scale": {"domain": [0, 0.55], "nice": false},
     "axis": {"orient": "right", "title": null, "labels": false, "values": [0,0.05,0.1,0.15,0.2,0.25,0.3,0.35,0.4,0.45,0.5], "tickSize": -5}}
  }
 }
],
"resolve": {"scale": {"x": "independent", "y": "independent"}}
}
